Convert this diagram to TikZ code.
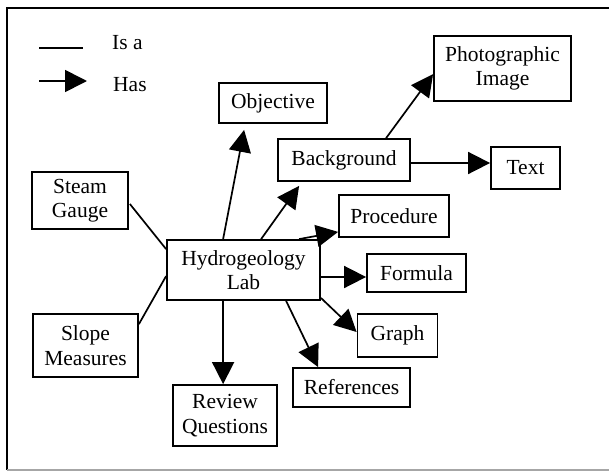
\documentclass[tikz,border=0pt]{standalone}
\usepackage{fontspec}
\setmainfont{Liberation Serif}
\usetikzlibrary{arrows.meta,calc}
\tikzset{
  box/.style={draw, line width=1.8pt, inner sep=0pt, align=center, font=\fontsize{21.5}{24.5}\selectfont},
  isa/.style={line width=1.7pt},
  has/.style={line width=1.7pt, -{Triangle[length=22pt,width=22pt]}},
  lbl/.style={inner sep=0pt, anchor=base west, font=\fontsize{21.5}{24.5}\selectfont}
}
\begin{document}
\begin{tikzpicture}[x=1pt,y=-1pt]
\useasboundingbox (0,0) rectangle (609,471);
% frame
\draw[line width=2.4pt] (7,470) -- (7,8) -- (609,8);
\draw[line width=1.2pt, black!35] (7,470) -- (609,470);
% legend
\coordinate (la) at (39,48);
\coordinate (lb) at (83,48);
\coordinate (lc) at (39,81);
\coordinate (ld) at (87,81);
\draw[isa] (la) -- (lb);
\draw[has] (lc) -- (ld);
\node[lbl] (tisa) at (112,49) {Is a};
\node[lbl] (thas) at (113,91) {Has};
% nodes
\node[box, minimum width=108pt, minimum height=40pt] (obj) at (273,103) {Objective};
\node[box, minimum width=132pt, minimum height=42pt] (bg) at (344,160) {Background};
\node[box, minimum width=137pt, minimum height=65pt] (photo) at (502.5,68.5) {Photographic\\Image};
\node[box, minimum width=69pt, minimum height=42pt] (txt) at (525.5,168) {Text};
\node[box, minimum width=110pt, minimum height=42pt] (proc) at (394,216) {Procedure};
\node[box, minimum width=96pt, minimum height=57pt] (sg) at (80,200.5) {Steam\\Gauge};
\node[box, minimum width=153pt, minimum height=60pt] (hyd) at (243.5,270) {Hydrogeology\\Lab};
\node[box, minimum width=99pt, minimum height=38pt] (fml) at (416.5,273) {Formula};
\node[box, minimum width=80pt, minimum height=43pt] (gr) at (397.5,335.5) {Graph};
\node[box, minimum width=117pt, minimum height=39pt] (ref) at (351.5,387.5) {References};
\node[box, minimum width=105pt, minimum height=63pt] (sm) at (85.5,345.5) {Slope\\Measures};
\node[box, minimum width=104pt, minimum height=61pt] (rev) at (225,415.5) {Review\\Questions};
% "is a" links
\draw[isa] ($(sg.east)+(1,3.5)$) -- ($(hyd.north west)+(0,10)$);
\draw[isa] ($(sm.north east)+(0,11)$) -- ($(hyd.north west)+(0,37)$);
% "has" links
\draw[has] ($(hyd.north west)+(57,0)$) -- ($(obj.south west)+(26,6)$);
\draw[has] ($(hyd.north west)+(95,0)$) -- ($(bg.south west)+(22,4)$);
\draw[has] ($(hyd.north west)+(133,0)$) -- ($(proc.south west)+(0,-6)$);
\draw[has] ($(bg.north west)+(109,0)$) -- ($(photo.north west)+(0,39)$);
\draw[has] ($(bg.east)+(0,3)$) -- ($(txt.west)+(0,-5)$);
\draw[has] ($(hyd.east)+(0,7)$) -- ($(fml.west)+(0,4)$);
\draw[has] ($(hyd.south east)+(0,-3)$) -- ($(gr.west)+(0,-3.5)$);
\draw[has] ($(hyd.south west)+(120,0)$) -- ($(ref.north west)+(26,0)$);
\draw[has] ($(hyd.south west)+(57,0)$) -- ($(rev.north west)+(51,0)$);
\end{tikzpicture}
\end{document}
